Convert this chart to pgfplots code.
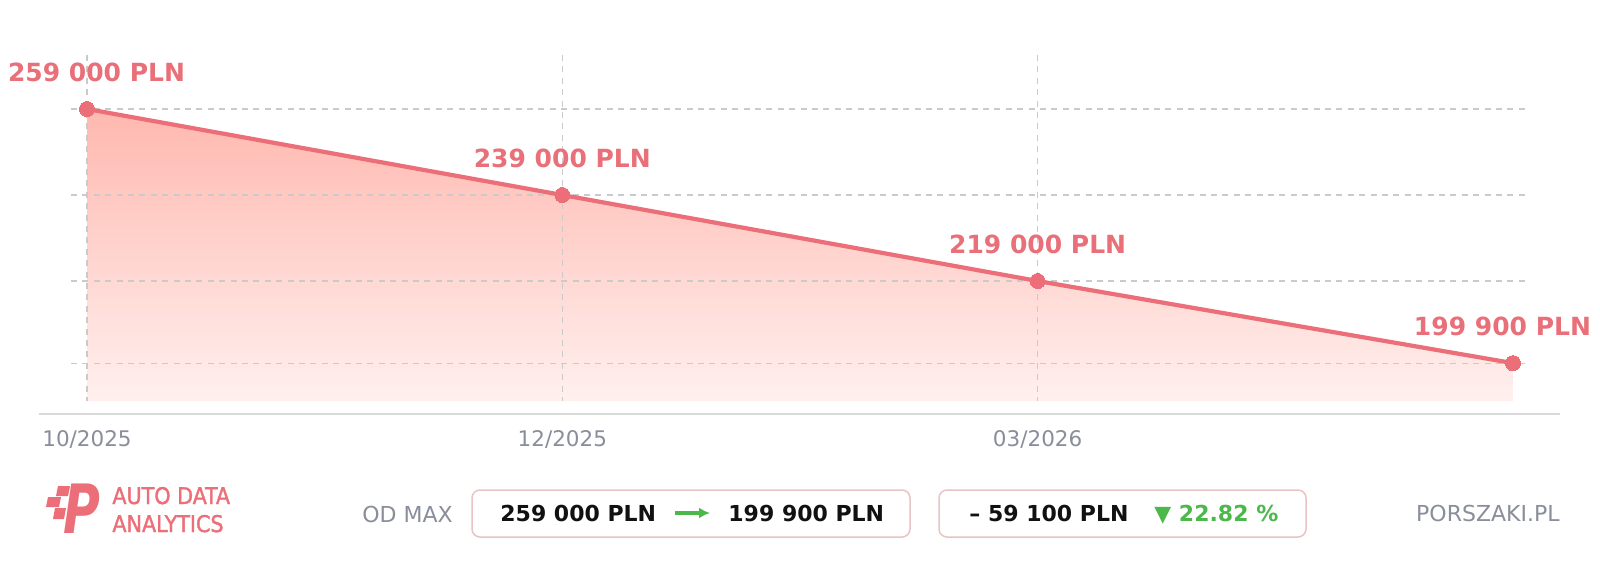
\documentclass[border=0pt]{standalone}
\usepackage{fontspec}
\setmainfont{DejaVu Sans}
\newfontfamily\condfont[FakeBold=1.5]{DejaVu Sans Condensed}
\usepackage{pgfplots}
\pgfplotsset{compat=1.18}
\usepackage{pgfplotstable}
\usetikzlibrary{arrows.meta}

\definecolor{linec}{HTML}{EC6E78}
\definecolor{labc}{HTML}{E96F79}
\definecolor{filltop}{HTML}{FFB8AF}
\definecolor{fillbot}{HTML}{FFF0EE}
\definecolor{gridc}{HTML}{CACACA}
\definecolor{axc}{HTML}{DADADA}
\definecolor{tickc}{HTML}{8A8E9B}
\definecolor{boxc}{HTML}{E8C4C4}
\definecolor{greenc}{HTML}{4CB84C}
\definecolor{txt}{HTML}{111111}

\pgfplotstableread{
x y dx
0 259000 4.75
1 239000 0
2 219000 0
3 199900 -5.25
}\prices

\begin{document}
\begin{tikzpicture}
\useasboundingbox (0,0) rectangle (800pt,284.5pt);
\fill[white] (0,0) rectangle (800pt,284.5pt);
\begin{axis}[
  at={(19.5pt,77.5pt)}, anchor=south west, scale only axis,
  width=760.5pt, height=179.5pt,
  xmin=-0.101, xmax=3.099, ymin=188070, ymax=271558,
  axis x line*=bottom, axis y line=none,
  x axis line style={draw=axc, line width=0.75pt, -},
  xtick={0,1,2}, xticklabels={10/2025,12/2025,03/2026},
  major tick length=0pt,
  xticklabel style={font=\fontsize{10.75pt}{12pt}\selectfont, text=tickc, anchor=base, yshift=-16pt, inner sep=0pt},
  ytick=\empty,
  clip=false,
]
\addplot[draw=none, top color=filltop, bottom color=fillbot, forget plot]
  table[x=x,y=y]{\prices} |- (axis cs:0,191093) -- cycle;
\pgfplotsinvokeforeach{259000,239000,219000,199900}{
  \draw[gridc, dash pattern=on 3pt off 2.7pt, line width=0.55pt] (axis cs:-0.0337,#1) -- (axis cs:3.028,#1);
}
\pgfplotsinvokeforeach{0,1,2}{
  \draw[gridc, dash pattern=on 3pt off 2.7pt, line width=0.55pt] (axis cs:#1,271558) -- (axis cs:#1,191093);
}
\addplot[linec, line width=2.1pt, mark=*, mark size=3.75pt,
  mark options={fill=linec, draw=linec, line width=0pt},
  nodes near coords={\pgfmathprintnumber[fixed, precision=0, 1000 sep={\ }, assume math mode=true]{\pgfplotspointmeta}\ PLN},
  visualization depends on={\thisrow{dx} \as \dx},
  nodes near coords style={anchor=base, yshift=14pt, xshift=\dx pt, inner sep=0pt,
    font=\fontsize{12.5pt}{14pt}\selectfont\bfseries, text=labc}]
  table[x=x,y=y]{\prices};
\end{axis}

\begin{scope}[x=0.5pt,y=-0.5pt,shift={(0pt,284.5pt)}]
  % logo
  \fill[linec] (58,486) -- (70,486) -- (68,496) -- (56,496) -- cycle;
  \fill[linec] (48,497) -- (61,497) -- (59,507) -- (46,507) -- cycle;
  \fill[linec] (55,508) -- (66,508) -- (64,519) -- (53,519) -- cycle;
  \node[anchor=base west, inner sep=0pt, text=linec, xscale=0.74,
    font=\fontsize{34pt}{34pt}\selectfont\bfseries\itshape] at (63,533) {P};
  \node[anchor=base west, inner sep=0pt, text=linec, align=left,
    font=\condfont\fontsize{11.5pt}{14pt}\selectfont] at (112,532) {AUTO DATA\\ANALYTICS};
  % od max
  \node[anchor=base west, inner sep=0pt, text=tickc,
    font=\fontsize{11pt}{12pt}\selectfont] at (362,522) {OD MAX};
  \draw[boxc, line width=0.75pt, rounded corners=4pt] (472,490) rectangle (910,537);
  \node[anchor=base west, inner sep=0pt, text=txt,
    font=\fontsize{11pt}{12pt}\selectfont\bfseries] at (500,521) {259 000 PLN};
  \draw[greenc, line width=1.6pt, -{Latex[length=5.5pt,width=5.5pt]}] (675,513) -- (710,513);
  \node[anchor=base west, inner sep=0pt, text=txt,
    font=\fontsize{11pt}{12pt}\selectfont\bfseries] at (728,521) {199 900 PLN};
  \draw[boxc, line width=0.75pt, rounded corners=4pt] (939,490) rectangle (1306,537);
  \node[anchor=base west, inner sep=0pt, text=txt,
    font=\fontsize{11pt}{12pt}\selectfont\bfseries] at (969,521) {– 59 100 PLN};
  \node[anchor=base west, inner sep=0pt, text=greenc,
    font=\fontsize{11pt}{12pt}\selectfont\bfseries] at (1154,521) {▼ 22.82 \%};
  \node[anchor=base east, inner sep=0pt, text=tickc,
    font=\fontsize{11pt}{12pt}\selectfont] at (1560,521) {PORSZAKI.PL};
\end{scope}
\end{tikzpicture}
\end{document}
